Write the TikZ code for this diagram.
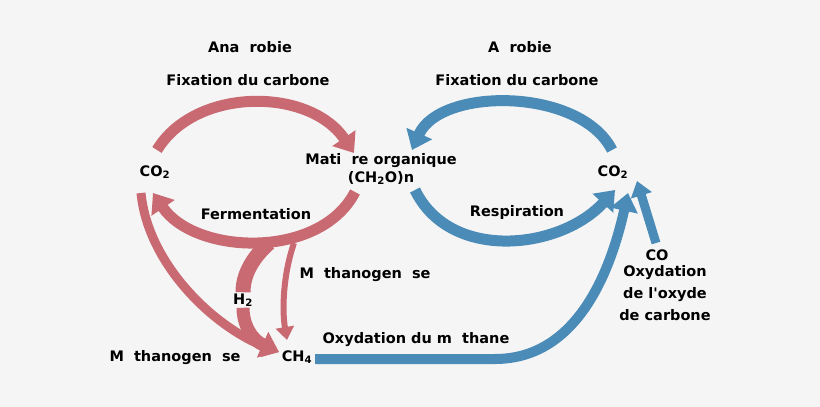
\documentclass[tikz,border=0pt]{standalone}
\usepackage{fontspec}
\setmainfont{DejaVu Sans}
\usetikzlibrary{arrows.meta,calc}
\definecolor{fond}{HTML}{F5F5F5}
\definecolor{rouge}{HTML}{C96A72}
\definecolor{bleu}{HTML}{4A8BB7}
\tikzset{
  lbl/.style={font=\fontsize{14.5}{18}\selectfont\bfseries, inner sep=1pt, align=center},
  gros/.style={line width=11pt, -{Triangle[width=27pt,length=18pt]}},
  moyen/.style={line width=9pt, -{Triangle[width=21pt,length=15pt]}},
  fin/.style={line width=6pt, -{Triangle[width=18pt,length=13pt]}}
}
\begin{document}
\begin{tikzpicture}[x=1pt, y=-1pt]
        % fond
        \fill[fond] (0,0) rectangle (820,407);
        \useasboundingbox (0,0) rectangle (820,407);

        % textes
        \node[lbl] (anaer) at (250,47) {Ana\ \ robie};
        \node[lbl] (fixr) at (248,80) {Fixation du carbone};
        \node[lbl] (aer) at (520,47) {A\ \ robie};
        \node[lbl] (fixb) at (517,80) {Fixation du carbone};
        \node[lbl] (co2l) at (155,172) {CO\textsubscript{2}};
        \node[lbl] (mo) at (381,169) {Mati\ \ re organique\\(CH\textsubscript{2}O)n};
        \node[lbl] (co2r) at (613,172) {CO\textsubscript{2}};
        \node[lbl] (ferm) at (256,214) {Fermentation};
        \node[lbl] (resp) at (517,212) {Respiration};
        \node[lbl] (methm) at (365,275) {M\ \ thanogen\ \ se};
        \node[lbl] (methl) at (175,358) {M\ \ thanogen\ \ se};
        \node[lbl] (ch4) at (297,357) {CH\textsubscript{4}};
        \node[lbl] (oxm) at (416,340) {Oxydation du m\ \ thane};
        \node[lbl] (co) at (657,255) {CO};
        \node[lbl, font=\fontsize{14.5}{22}\selectfont\bfseries] (oxco) at (665,293) {Oxydation\\de l\textquotesingle oxyde\\de carbone};
        \node[lbl, fill=fond] (h2) at (243,300) {H\textsubscript{2}};

        % cycle anaerobie (rouge)
        \draw[gros, rouge] ($(co2l)+(2,-22)$) .. controls (195,87) and (309,87) .. ($(mo)+(-27,-16)$);
        \draw[gros, rouge] ($(mo)+(-26,23)$) .. controls (320,260) and (195,255) .. ($(co2l)+(-2,21)$);
        \draw[moyen, rouge] ($(co2l)+(-14,21)$) .. controls (148,265) and (215,328) .. ($(ch4)+(-18,-5)$);
        \draw[rouge, line width=15pt] ($(ferm)+(13,29)$) .. controls (252,258) and (243,275) .. (h2.north);
        \draw[gros, rouge, line width=13pt] (h2.south) .. controls (243,325) and (252,340) .. ($(ch4)+(-18,-5)$);
        \draw[fin, rouge] ($(ferm)+(38,29)$) .. controls (283,275) and (282,310) .. ($(ch4)+(-10,-17)$);

        % cycle aerobie (bleu)
        \draw[gros, bleu] ($(co2r)+(-1,-22)$) .. controls (580,87) and (440,87) .. ($(mo)+(31,-19)$);
        \draw[gros, bleu] ($(mo)+(34,21)$) .. controls (450,262) and (560,250) .. ($(co2r)+(2,18)$);
        \draw[gros, bleu, line width=10pt] ($(ch4)+(18,2)$) -- (495,359) .. controls (580,359) and (612,265) .. ($(co2r)+(15,21)$);
        \draw[moyen, bleu] ($(co)+(-1,-12)$) -- ($(co2r)+(24,9)$);
\end{tikzpicture}
\end{document}
